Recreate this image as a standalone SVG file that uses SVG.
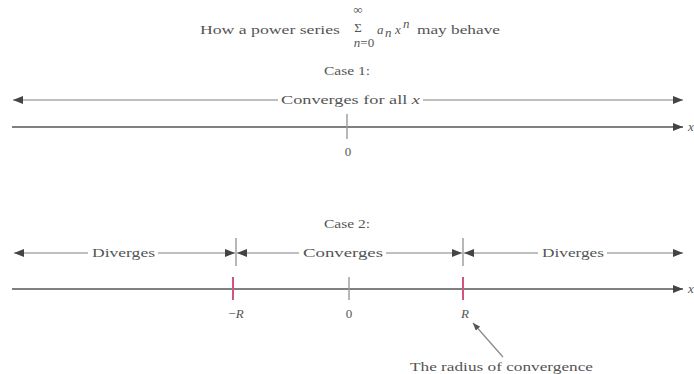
<svg xmlns="http://www.w3.org/2000/svg" width="694" height="374" viewBox="0 0 694 374">
<style>
text{font-family:"Liberation Serif","Times New Roman",serif;fill:#555;font-size:13px}
.it{font-style:italic}
.ln{stroke:#aaa;stroke-width:1.6;fill:none}
.ax{stroke:#808080;stroke-width:2;fill:none}
.tk{stroke:#999;stroke-width:1.4}
.rt{stroke:#d2557a;stroke-width:2}
</style>
<defs>
<marker id="ah" viewBox="0 0 10 8" refX="10" refY="4" markerWidth="10" markerHeight="8" markerUnits="userSpaceOnUse" orient="auto">
<path d="M0,0 L10,4 L0,8 Z" fill="#444"/>
</marker>
<marker id="ahs" viewBox="0 0 10 8" refX="10" refY="4" markerWidth="8" markerHeight="6" markerUnits="userSpaceOnUse" orient="auto">
<path d="M0,0 L10,4 L0,8 Z" fill="#555"/>
</marker>
</defs>

<g id="title">
<text x="200" y="34" textLength="140" lengthAdjust="spacingAndGlyphs">How a power series</text>
<text x="358" y="32" font-size="13" text-anchor="middle">Σ</text>
<text x="358" y="14" font-size="8" text-anchor="middle">∞</text>
<text x="364" y="47" font-size="7" text-anchor="middle"><tspan class="it">n</tspan>=0</text>
<text x="377" y="34" class="it">a</text>
<text x="385" y="37" font-size="8" class="it">n</text>
<text x="395" y="34" class="it">x</text>
<text x="403" y="28" font-size="8" class="it">n</text>
<text x="417" y="34" textLength="83" lengthAdjust="spacingAndGlyphs">may behave</text>
</g>

<g id="connectors">
<line class="ln" x1="278" y1="100" x2="13" y2="100" marker-end="url(#ah)"/>
<line class="ln" x1="423" y1="100" x2="683" y2="100" marker-end="url(#ah)"/>
<line class="ax" x1="12" y1="127" x2="683" y2="127" marker-end="url(#ah)"/>

<line class="ln" x1="88" y1="253" x2="14" y2="253" marker-end="url(#ah)"/>
<line class="ln" x1="158" y1="253" x2="235" y2="253" marker-end="url(#ah)"/>
<line class="ln" x1="299" y1="253" x2="237" y2="253" marker-end="url(#ah)"/>
<line class="ln" x1="386" y1="253" x2="462" y2="253" marker-end="url(#ah)"/>
<line class="ln" x1="538" y1="253" x2="464" y2="253" marker-end="url(#ah)"/>
<line class="ln" x1="607" y1="253" x2="683" y2="253" marker-end="url(#ah)"/>
<line class="ax" x1="12" y1="289" x2="683" y2="289" marker-end="url(#ah)"/>

<line x1="503" y1="357" x2="473" y2="323" stroke="#888" stroke-width="1.2" marker-end="url(#ahs)"/>
</g>

<g id="case1">
<text x="347" y="75" text-anchor="middle" textLength="46" lengthAdjust="spacingAndGlyphs">Case 1:</text>
<text x="281" y="104" textLength="139" lengthAdjust="spacingAndGlyphs">Converges for all <tspan class="it">x</tspan></text>
<line class="tk" x1="347" y1="114" x2="347" y2="139"/>
<text x="348" y="156" text-anchor="middle">0</text>
<text x="688" y="131" class="it" font-size="12">x</text>
</g>

<g id="case2">
<text x="347" y="228" text-anchor="middle" textLength="46" lengthAdjust="spacingAndGlyphs">Case 2:</text>
<text x="92" y="257" textLength="63" lengthAdjust="spacingAndGlyphs">Diverges</text>
<text x="303" y="257" textLength="80" lengthAdjust="spacingAndGlyphs">Converges</text>
<text x="542" y="257" textLength="62" lengthAdjust="spacingAndGlyphs">Diverges</text>
<line class="tk" x1="236" y1="238" x2="236" y2="266"/>
<line class="tk" x1="463" y1="238" x2="463" y2="266"/>
<line class="rt" x1="233" y1="277" x2="233" y2="300"/>
<line class="rt" x1="463" y1="277" x2="463" y2="300"/>
<line class="tk" x1="349" y1="277" x2="349" y2="300"/>
<text x="236" y="318" text-anchor="middle">−<tspan class="it">R</tspan></text>
<text x="349" y="318" text-anchor="middle">0</text>
<text x="465" y="318" text-anchor="middle" class="it">R</text>
<text x="688" y="293" class="it" font-size="12">x</text>
</g>

<g id="radius-label">
<text x="410" y="371" textLength="183" lengthAdjust="spacingAndGlyphs">The radius of convergence</text>
</g>
</svg>
